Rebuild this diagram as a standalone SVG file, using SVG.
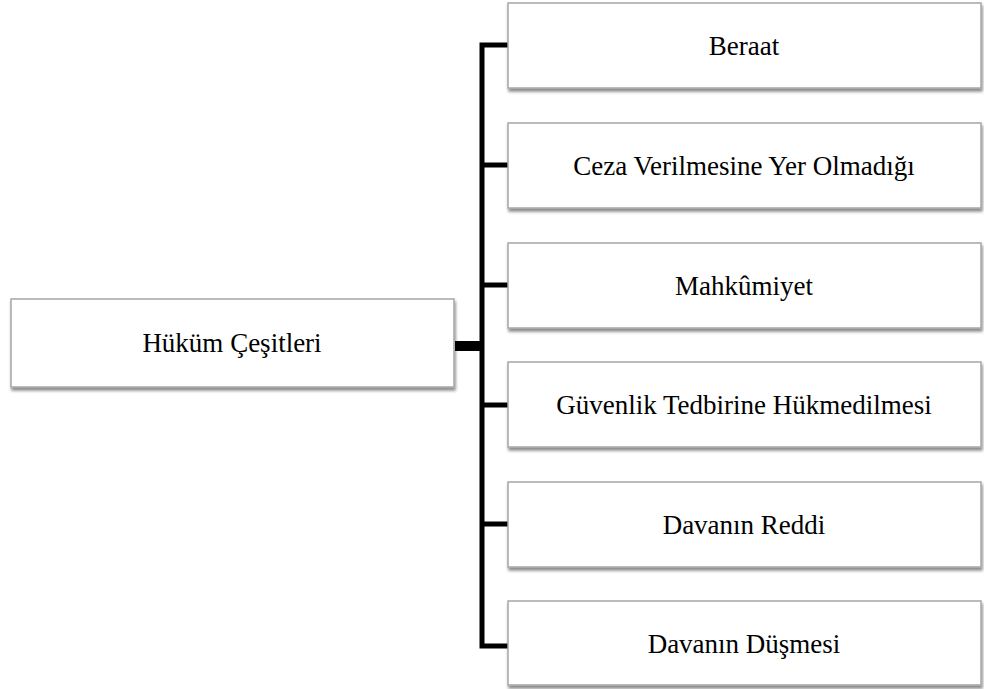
<svg xmlns="http://www.w3.org/2000/svg" width="984" height="689" viewBox="0 0 984 689">
<defs>
<filter id="sh" x="-5%" y="-10%" width="110%" height="130%">
<feDropShadow dx="1" dy="3" stdDeviation="1.5" flood-color="#000" flood-opacity="0.45"/>
</filter>
</defs>
<style>
.box{fill:#fff;stroke:#a6a6a6;stroke-width:1.5;filter:url(#sh)}
.t{font-family:"Liberation Serif","Times New Roman",serif;font-size:27px;fill:#000;text-anchor:middle}
.c{fill:none;stroke:#000;stroke-width:5;stroke-linejoin:miter}
</style>
<rect width="984" height="689" fill="#fff"/>
<g id="connectors">
<path class="c" d="M508 45 H482 V646 H508"/>
<path class="c" d="M482 165 H508 M482 285 H508 M482 405 H508 M482 524 H508"/>
<path d="M455 346 H482" stroke="#000" stroke-width="10"/>
</g>
<g id="root"><rect class="box" x="11" y="299" width="443" height="88"/><text class="t" x="232" y="352">Hüküm Çeşitleri</text></g>
<g id="n1"><rect class="box" x="508" y="3" width="473" height="85"/><text class="t" x="744" y="55">Beraat</text></g>
<g id="n2"><rect class="box" x="508" y="123" width="473" height="85"/><text class="t" x="744" y="175">Ceza Verilmesine Yer Olmadığı</text></g>
<g id="n3"><rect class="box" x="508" y="243" width="473" height="85"/><text class="t" x="744" y="295">Mahkûmiyet</text></g>
<g id="n4"><rect class="box" x="508" y="362" width="473" height="85"/><text class="t" x="744" y="414">Güvenlik Tedbirine Hükmedilmesi</text></g>
<g id="n5"><rect class="box" x="508" y="482" width="473" height="85"/><text class="t" x="744" y="534">Davanın Reddi</text></g>
<g id="n6"><rect class="box" x="508" y="601" width="473" height="84"/><text class="t" x="744" y="653">Davanın Düşmesi</text></g>
</svg>
